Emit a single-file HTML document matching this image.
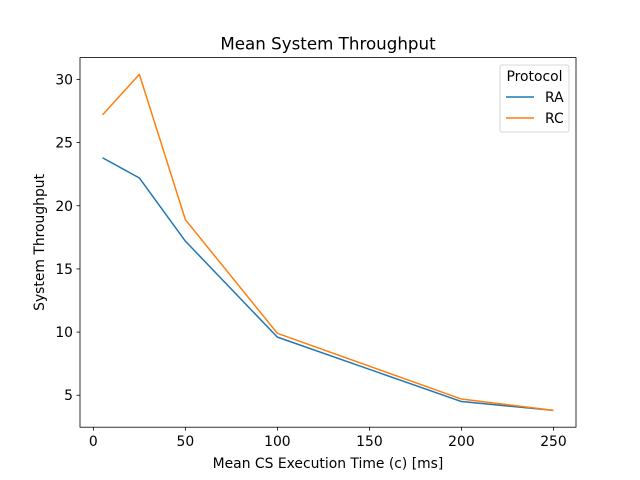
<!DOCTYPE html>
<html><head><meta charset="utf-8"><style>
body{margin:0;background:#fff;}
svg{display:block;font-family:"DejaVu Sans","Liberation Sans",sans-serif;}
</style></head><body>
<svg id="chart" width="640" height="480" viewBox="0 0 640 480" xmlns="http://www.w3.org/2000/svg">
<rect width="640" height="480" fill="#fff"/>
<text x="328" y="49.5" text-anchor="middle" font-size="16.7">Mean System Throughput</text>
<g id="plot"></g>
<rect x="80" y="57.6" width="496" height="369.6" fill="none" stroke="#000" stroke-width="0.8"/>
<text x="328" y="468" text-anchor="middle" font-size="13.9">Mean CS Execution Time (c) [ms]</text>
<text transform="translate(44,242.4) rotate(-90)" text-anchor="middle" font-size="13.9">System Throughput</text>
<g>
<rect x="500" y="65" width="69" height="67" rx="2" fill="#fff" fill-opacity="0.8" stroke="#ccc" stroke-width="0.8"/>
<text x="534.5" y="81" text-anchor="middle" font-size="13.9">Protocol</text>
<line x1="506" y1="97" x2="534" y2="97" stroke="#1f77b4" stroke-width="1.5"/>
<text x="545" y="102" font-size="13.9">RA</text>
<line x1="506" y1="118" x2="534" y2="118" stroke="#ff7f0e" stroke-width="1.5"/>
<text x="545" y="123" font-size="13.9">RC</text>
</g>
</svg>
<script>
const categories=[5,25,50,100,200,250];
const raValues=[23.8,22.2,17.2,9.6,4.5,3.8];
const rcValues=[27.2,30.4,18.9,9.9,4.7,3.8];
const xTicks=[0,50,100,150,200,250];
const yTicks=[5,10,15,20,25,30];
const NS='http://www.w3.org/2000/svg';
const L=80,R=576,T=57.6,B=427.2;
const xmin=Math.min(...categories),xmax=Math.max(...categories),xm=(xmax-xmin)*0.05;
const all=raValues.concat(rcValues);
const ymin=Math.min(...all),ymax=Math.max(...all),ym=(ymax-ymin)*0.05;
const xs=v=>L+(v-(xmin-xm))/((xmax+xm)-(xmin-xm))*(R-L);
const ys=v=>B-(v-(ymin-ym))/((ymax+ym)-(ymin-ym))*(B-T);
const g=document.getElementById('plot');
function mk(t,a){const e=document.createElementNS(NS,t);for(const k in a)e.setAttribute(k,a[k]);g.appendChild(e);return e;}
xTicks.forEach(v=>{const x=xs(v);
const l=mk('line',{x1:x,x2:x,y1:B,y2:B+3.5,stroke:'#000','stroke-width':0.8});


const t=mk('text',{x:x,y:B+19,'text-anchor':'middle','font-size':13.9});t.textContent=v;

});
yTicks.forEach(v=>{const y=ys(v);
const l=mk('line',{x1:L-3.5,x2:L,y1:y,y2:y,stroke:'#000','stroke-width':0.8});


const t=mk('text',{x:L-7,y:y+5,'text-anchor':'end','font-size':13.9});t.textContent=v;

});
function series(vals,color,name){
const p=mk('polyline',{points:categories.map((c,i)=>xs(c)+','+ys(vals[i])).join(' '),fill:'none',stroke:color,'stroke-width':1.5,'stroke-linejoin':'round'});

}
series(raValues,'#1f77b4','series-ra-line');
series(rcValues,'#ff7f0e','series-rc-line');
</script>
</body></html>
